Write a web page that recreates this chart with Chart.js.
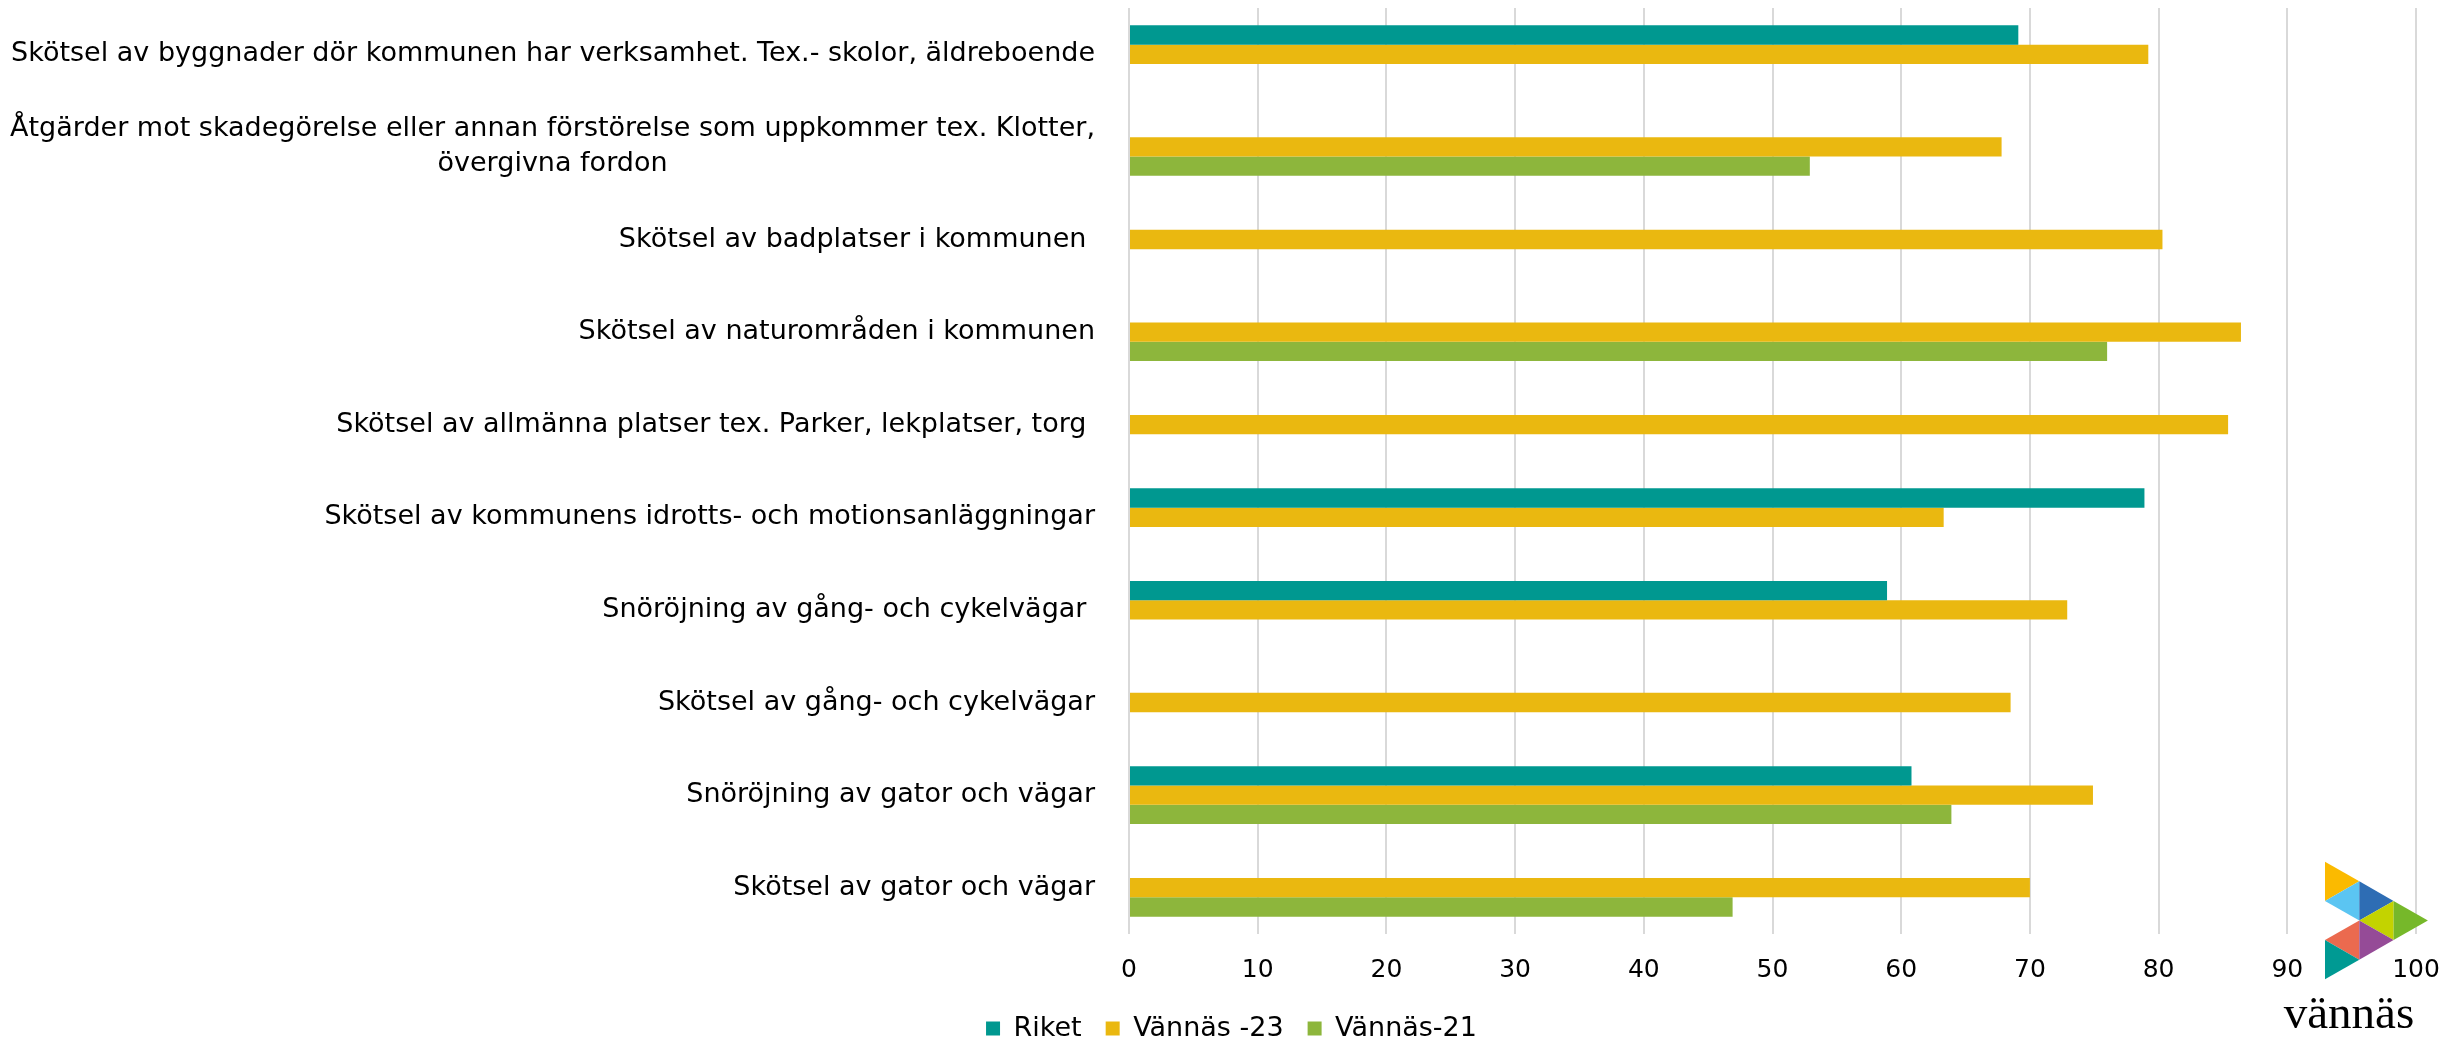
<!DOCTYPE html>
<html>
<head>
<meta charset="utf-8">
<script src="https://cdn.jsdelivr.net/npm/chart.js@4"></script>
<style>
  html, body { margin: 0; padding: 0; background: #fff; }
</style>
</head>
<body>
<canvas id="chart" width="2463" height="1043"></canvas>
<script>
// Kategorier (uppifrån och ned)
const categories = [
  'Skötsel av byggnader dör kommunen har verksamhet. Tex.- skolor, äldreboende',
  ['Åtgärder mot skadegörelse eller annan förstörelse som uppkommer tex. Klotter,', 'övergivna fordon'],
  'Skötsel av badplatser i kommunen ',
  'Skötsel av naturområden i kommunen',
  'Skötsel av allmänna platser tex. Parker, lekplatser, torg ',
  'Skötsel av kommunens idrotts- och motionsanläggningar',
  'Snöröjning av gång- och cykelvägar ',
  'Skötsel av gång- och cykelvägar',
  'Snöröjning av gator och vägar',
  'Skötsel av gator och vägar'
];

// Serievärden
const riket    = [69.1, null, null, null, null, 78.9, 58.9, null, 60.8, null];
const vannas23 = [79.2, 67.8, 80.3, 86.4, 85.4, 63.3, 72.9, 68.5, 74.9, 70.0];
const vannas21 = [null, 52.9, null, 76.0, null, null, null, null, 63.9, 46.9];

const seriesNames = ['Riket', 'Vännäs -23', 'Vännäs-21'];
const xTicks = [0, 10, 20, 30, 40, 50, 60, 70, 80, 90, 100];

const FONT = 'DejaVu Sans';

// Kategorietiketter: högerställda, radbrutna rader centrerade
const categoryLabels = {
  id: 'categoryLabels',
  afterDraw(chart) {
    const ctx = chart.ctx;
    const yScale = chart.scales.y;
    const right = chart.chartArea.left - 34;
    const lineH = 35;
    ctx.save();
    ctx.font = '27px "' + FONT + '"';
    ctx.fillStyle = '#000';
    ctx.textBaseline = 'middle';
    categories.forEach((lab, i) => {
      const y = yScale.getPixelForTick(i);
      if (Array.isArray(lab)) {
        const w = Math.max(...lab.map(l => ctx.measureText(l).width));
        const cx = right - w / 2;
        ctx.textAlign = 'center';
        lab.forEach((l, j) => {
          ctx.fillText(l, cx, y + (j - (lab.length - 1) / 2) * lineH);
        });
      } else {
        ctx.textAlign = 'right';
        ctx.fillText(lab, right, y);
      }
    });
    ctx.restore();
  }
};

// Vännäs-logotypen nere till höger
const logo = {
  id: 'logo',
  afterDraw(chart) {
    const ctx = chart.ctx;
    const x0 = 2325, dx = 34.3, y0 = 861.7, dy = 19.6;
    const P = (c, r) => [x0 + c * dx, y0 + r * dy];
    const tris = [
      ['#fbba00', [0, 0], [1, 1], [0, 2]],
      ['#5bc5f2', [0, 2], [1, 1], [1, 3]],
      ['#2e6db4', [1, 1], [2, 2], [1, 3]],
      ['#c3d300', [1, 3], [2, 2], [2, 4]],
      ['#76b82a', [2, 2], [3, 3], [2, 4]],
      ['#eb6a4f', [0, 4], [1, 3], [1, 5]],
      ['#954b97', [1, 3], [2, 4], [1, 5]],
      ['#009a93', [0, 4], [1, 5], [0, 6]]
    ];
    ctx.save();
    tris.forEach(t => {
      ctx.fillStyle = t[0];
      ctx.beginPath();
      ctx.moveTo(...P(...t[1]));
      ctx.lineTo(...P(...t[2]));
      ctx.lineTo(...P(...t[3]));
      ctx.closePath();
      ctx.fill();
    });
    ctx.fillStyle = '#000';
    ctx.font = '47px "Liberation Serif"';
    ctx.textAlign = 'center';
    ctx.textBaseline = 'alphabetic';
    ctx.fillText('vännäs', 2349, 1028);
    ctx.restore();
  }
};

const ctx = document.getElementById('chart').getContext('2d');
new Chart(ctx, {
  type: 'bar',
  data: {
    labels: categories,
    datasets: [
      { label: seriesNames[0], data: riket, backgroundColor: '#009890' },
      { label: seriesNames[1], data: vannas23, backgroundColor: '#eab810' },
      { label: seriesNames[2], data: vannas21, backgroundColor: '#8db63c' }
    ]
  },
  options: {
    indexAxis: 'y',
    responsive: false,
    animation: false,
    devicePixelRatio: 1,
    layout: { padding: { top: 8, right: 0, left: 0, bottom: -9 } },
    datasets: { bar: { categoryPercentage: 0.625, barPercentage: 1.0 } },
    scales: {
      x: {
        min: 0,
        max: 100,
        afterBuildTicks(scale) { scale.ticks = xTicks.map(v => ({ value: v })); },
        ticks: { font: { family: FONT, size: 25 }, color: '#000', padding: 21 },
        grid: { color: '#d9d9d9', lineWidth: 2, drawTicks: false },
        border: { display: false },
        afterFit(scale) { scale.height = 57; }
      },
      y: {
        ticks: { display: false },
        grid: { display: false },
        border: { display: false },
        afterFit(scale) { scale.width = 1129; }
      },
      // tom axel till höger som ger luft mellan diagramyta och kant
      yRight: {
        type: 'linear',
        axis: 'y',
        position: 'right',
        ticks: { display: false },
        grid: { display: false },
        border: { display: false },
        afterFit(scale) { scale.width = 47; }
      }
    },
    plugins: {
      legend: {
        position: 'bottom',
        labels: {
          font: { family: FONT, size: 27 },
          color: '#000',
          boxWidth: 14,
          boxHeight: 14,
          padding: 24
        }
      },
      tooltip: { enabled: false }
    }
  },
  plugins: [categoryLabels, logo]
});
</script>
</body>
</html>
